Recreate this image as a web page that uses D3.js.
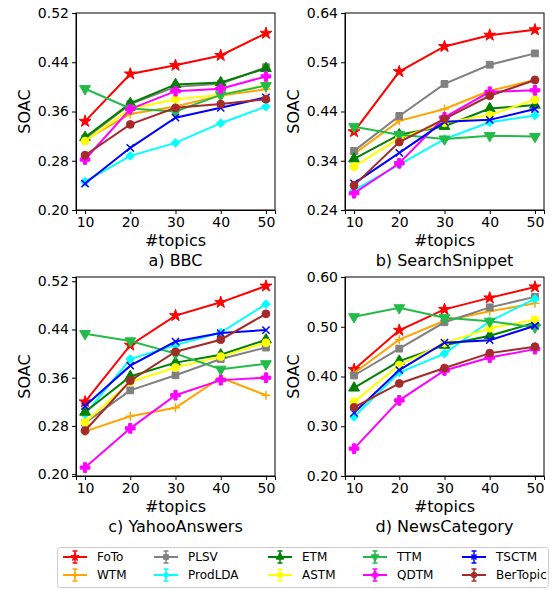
<!DOCTYPE html>
<html>
<head>
<meta charset="utf-8">
<script src="https://cdn.jsdelivr.net/npm/d3@7"></script>
<style>
  body { margin: 0; background: #fff; }
  text { font-family: "DejaVu Sans", sans-serif; fill: #000; }
  .domain, .tick line { stroke: #000; }
</style>
</head>
<body>
<div id="chart"></div>
<script>
// #topics on the x axis.
var topics = [10, 20, 30, 40, 50];

// Methods, in legend order (column by column).
var methods = ['FoTo', 'WTM', 'PLSV', 'ProdLDA', 'ETM', 'ASTM', 'TTM', 'QDTM', 'TSCTM', 'BerTopic'];
var colors = ['#ff0000', '#ffa500', '#808080', '#00ffff', '#008000', '#ffff00', '#22bb48', '#ff00ff', '#0000ff', '#a52a2a'];
var markers = ['star', 'plus', 'square', 'diamond', 'triUp', 'circle', 'triDown', 'fatPlus', 'x', 'circle'];

// SOAC per method (rows in method order), one array per dataset.
var bbc = [
  [0.344, 0.421, 0.435, 0.451, 0.487],
  [0.314, 0.356, 0.368, 0.386, 0.396],
  [0.316, 0.372, 0.400, 0.405, 0.432],
  [0.246, 0.288, 0.309, 0.341, 0.368],
  [0.318, 0.373, 0.404, 0.407, 0.430],
  [0.312, 0.364, 0.380, 0.387, 0.403],
  [0.397, 0.365, 0.360, 0.387, 0.402],
  [0.282, 0.364, 0.393, 0.397, 0.417],
  [0.243, 0.301, 0.350, 0.366, 0.383],
  [0.289, 0.339, 0.366, 0.372, 0.380]
];
var searchSnippet = [
  [0.399, 0.521, 0.572, 0.595, 0.606],
  [0.354, 0.421, 0.445, 0.482, 0.504],
  [0.360, 0.431, 0.496, 0.535, 0.558],
  [0.280, 0.332, 0.384, 0.418, 0.432],
  [0.344, 0.393, 0.410, 0.446, 0.453],
  [0.328, 0.386, 0.417, 0.433, 0.464],
  [0.409, 0.393, 0.384, 0.391, 0.389],
  [0.274, 0.335, 0.428, 0.480, 0.483],
  [0.294, 0.356, 0.419, 0.423, 0.445],
  [0.290, 0.378, 0.425, 0.472, 0.504]
];
var yahooAnswers = [
  [0.320, 0.414, 0.463, 0.485, 0.512],
  [0.271, 0.296, 0.310, 0.360, 0.331],
  [0.285, 0.339, 0.364, 0.391, 0.410],
  [0.299, 0.391, 0.414, 0.435, 0.482],
  [0.303, 0.362, 0.385, 0.398, 0.423],
  [0.286, 0.353, 0.377, 0.395, 0.418],
  [0.433, 0.421, 0.400, 0.374, 0.383],
  [0.211, 0.276, 0.331, 0.356, 0.360],
  [0.313, 0.380, 0.420, 0.434, 0.439],
  [0.272, 0.355, 0.403, 0.423, 0.466]
];
var newsCategory = [
  [0.414, 0.493, 0.535, 0.558, 0.580],
  [0.407, 0.474, 0.512, 0.531, 0.547],
  [0.402, 0.456, 0.509, 0.539, 0.560],
  [0.319, 0.408, 0.446, 0.511, 0.556],
  [0.377, 0.431, 0.463, 0.482, 0.508],
  [0.349, 0.423, 0.467, 0.497, 0.514],
  [0.520, 0.538, 0.518, 0.511, 0.499],
  [0.255, 0.352, 0.412, 0.438, 0.455],
  [0.327, 0.413, 0.468, 0.473, 0.502],
  [0.338, 0.386, 0.417, 0.447, 0.460]
];

var titles = ['a) BBC', 'b) SearchSnippet', 'c) YahooAnswers', 'd) NewsCategory'];
var yTicks = [
  [0.20, 0.28, 0.36, 0.44, 0.52],
  [0.24, 0.34, 0.44, 0.54, 0.64],
  [0.20, 0.28, 0.36, 0.44, 0.52],
  [0.20, 0.30, 0.40, 0.50, 0.60]
];
var yDomains = [[0.20, 0.52], [0.24, 0.64], [0.197, 0.527], [0.20, 0.60]];
var datasets = [bbc, searchSnippet, yahooAnswers, newsCategory];


var WIDTH = 554, HEIGHT = 590;
var PANEL_W = 199;
var lefts = [76, 345, 76, 345];
var tops = [13, 13, 277, 277];
var bottoms = [210, 210, 476, 476];

var svg = d3.select('#chart').append('svg')
    .attr('width', WIDTH)
    .attr('height', HEIGHT);

// Marker glyph for a matplotlib-like marker name.
function markerPath(type, scale) {
  scale = scale || 1;
  switch (type) {
    case 'star': return d3.symbol(d3.symbolStar, 44 * scale * scale)();
    case 'square': return d3.symbol(d3.symbolSquare, 46 * scale * scale)();
    case 'diamond': return d3.symbol(d3.symbolSquare, 34 * scale * scale)();
    case 'triUp':
    case 'triDown': return d3.symbol(d3.symbolTriangle, 50 * scale * scale)();
    case 'circle': return d3.symbol(d3.symbolCircle, 48 * scale * scale)();
    case 'fatPlus': return d3.symbol(d3.symbolCross, 52 * scale * scale)();
    case 'plus': var s = 4.5 * scale; return 'M' + (-s) + ',0H' + s + 'M0,' + (-s) + 'V' + s;
    case 'x': var t = 3.6 * scale; return 'M' + (-t) + ',' + (-t) + 'L' + t + ',' + t + 'M' + (-t) + ',' + t + 'L' + t + ',' + (-t);
  }
}
function markerRotation(type) {
  if (type === 'diamond') return 45;
  if (type === 'triDown') return 180;
  return 0;
}
function isStrokeMarker(type) { return type === 'plus' || type === 'x'; }

function drawMarker(g, type, color, x, y, scale) {
  var stroked = isStrokeMarker(type);
  g.append('path')
      .attr('d', markerPath(type, scale))
      .attr('transform', 'translate(' + x + ',' + y + ') rotate(' + markerRotation(type) + ')')
      .attr('fill', stroked ? 'none' : color)
      .attr('stroke', color)
      .attr('stroke-width', stroked ? 1.5 : 1);
}

datasets.forEach(function(data, p) {
  var left = lefts[p], top = tops[p], bottom = bottoms[p];
  var x = d3.scaleLinear().domain([8, 52]).range([left, left + PANEL_W]);
  var y = d3.scaleLinear().domain(yDomains[p]).range([bottom, top]);

  var panel = svg.append('g').classed('panel', true);

  // Lines and markers.
  var line = d3.line()
      .x(function(d, i) { return x(topics[i]); })
      .y(function(d) { return y(d); });

  data.forEach(function(values, m) {
    var g = panel.append('g').classed('series', true);
    g.append('path')
        .attr('d', line(values))
        .attr('fill', 'none')
        .attr('stroke', colors[m])
        .attr('stroke-width', 2);
    values.forEach(function(v, i) {
      drawMarker(g, markers[m], colors[m], x(topics[i]), y(v));
    });
  });

  // Axes.
  var xAxis = d3.axisBottom(x).tickValues(topics).tickSize(4).tickPadding(3)
      .tickFormat(d3.format('d'));
  var yAxis = d3.axisLeft(y).tickValues(yTicks[p]).tickSize(4).tickPadding(3)
      .tickFormat(d3.format('.2f'));

  panel.append('g')
      .attr('transform', 'translate(0,' + bottom + ')')
      .call(xAxis)
      .call(function(g) { g.selectAll('text').style('font-size', '14px'); });
  panel.append('g')
      .attr('transform', 'translate(' + left + ',0)')
      .call(yAxis)
      .call(function(g) { g.selectAll('text').style('font-size', '14px'); });

  // Frame.
  panel.append('rect')
      .attr('x', left).attr('y', top)
      .attr('width', PANEL_W).attr('height', bottom - top)
      .attr('fill', 'none').attr('stroke', '#000').attr('stroke-width', 1);

  // Labels.
  var cx = left + PANEL_W / 2;
  panel.append('text')
      .attr('x', cx).attr('y', bottom + 36)
      .attr('text-anchor', 'middle')
      .style('font-size', '16px')
      .text('#topics');
  panel.append('text')
      .attr('x', cx).attr('y', bottom + 56)
      .attr('text-anchor', 'middle')
      .style('font-size', '16px')
      .text(titles[p]);
  panel.append('text')
      .attr('transform', 'translate(' + (left - 46) + ',' + ((top + bottom) / 2) + ') rotate(-90)')
      .attr('text-anchor', 'middle')
      .style('font-size', '16px')
      .text('SOAC');
});

// Legend, 5 columns x 2 rows, filled column by column.
var legend = svg.append('g').classed('legend', true);
legend.append('rect')
    .attr('x', 57.5).attr('y', 547.5)
    .attr('width', 491).attr('height', 40)
    .attr('rx', 3)
    .attr('fill', '#fff')
    .attr('stroke', '#cccccc');

var colTextX = [97, 188, 302, 397, 496];
var rowY = [557, 575];
methods.forEach(function(name, m) {
  var col = Math.floor(m / 2), row = m % 2;
  var tx = colTextX[col], ty = rowY[row];
  var hx0 = tx - 34, hx1 = tx - 10, hc = (hx0 + hx1) / 2;
  var g = legend.append('g');
  g.append('line')
      .attr('x1', hx0).attr('x2', hx1).attr('y1', ty).attr('y2', ty)
      .attr('stroke', colors[m]).attr('stroke-width', 2);
  g.append('line')
      .attr('x1', hc).attr('x2', hc).attr('y1', ty - 6).attr('y2', ty + 6)
      .attr('stroke', colors[m]).attr('stroke-width', 1.5);
  [ty - 6, ty + 6].forEach(function(cy) {
    g.append('line')
        .attr('x1', hc - 2.5).attr('x2', hc + 2.5).attr('y1', cy).attr('y2', cy)
        .attr('stroke', colors[m]).attr('stroke-width', 1.5);
  });
  drawMarker(g, markers[m], colors[m], hc, ty, 0.7);
  g.append('text')
      .attr('x', tx).attr('y', ty)
      .attr('dy', '0.35em')
      .style('font-size', '12px')
      .text(name);
});
</script>
</body>
</html>
